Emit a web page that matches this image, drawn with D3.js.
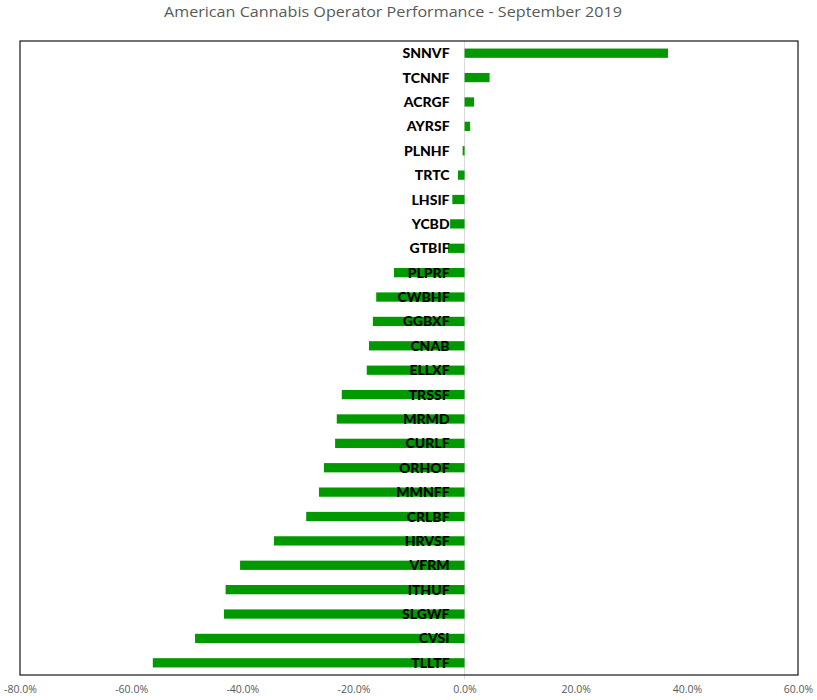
<!DOCTYPE html>
<html>
<head>
<meta charset="utf-8">
<script src="https://cdn.jsdelivr.net/npm/d3@7"></script>
<style>
  html, body { margin: 0; padding: 0; background: #fff; }
  svg { display: block; }
</style>
</head>
<body>
<svg id="chart" width="817" height="700"></svg>
<script>
const categories = ["SNNVF","TCNNF","ACRGF","AYRSF","PLNHF","TRTC","LHSIF","YCBD","GTBIF","PLPRF","CWBHF","GGBXF","CNAB","ELLXF","TRSSF","MRMD","CURLF","ORHOF","MMNFF","CRLBF","HRVSF","VFRM","ITHUF","SLGWF","CVSI","TLLTF"];
const values = [36.6, 4.5, 1.7, 1.0, -0.35, -1.2, -2.2, -2.6, -3.0, -12.7, -15.9, -16.5, -17.2, -17.6, -22.1, -23.0, -23.3, -25.3, -26.2, -28.5, -34.3, -40.4, -43.0, -43.3, -48.5, -56.1];
const tickValues = [-80, -60, -40, -20, 0, 20, 40, 60];
const title = "American Cannabis Operator Performance - September 2019";

const svg = d3.select("#chart");
const L = 20, R = 798, T = 41, B = 675;

const x = d3.scaleLinear().domain([-80, 60]).range([L, R]);
const y = d3.scaleBand().domain(categories).range([T, B]).paddingInner(0.62).paddingOuter(0.31);

// title
svg.append("text")
  .attr("x", 393).attr("y", 17)
  .attr("text-anchor", "middle")
  .attr("font-family", "Open Sans, sans-serif")
  .attr("font-size", 15)
  .attr("fill", "#595959")
  .attr("textLength", 458).attr("lengthAdjust", "spacingAndGlyphs")
  .text(title);

// zero line
svg.append("line")
  .attr("x1", x(0)).attr("x2", x(0))
  .attr("y1", T).attr("y2", B + 4)
  .attr("stroke", "#d9d9d9").attr("stroke-width", 1);

// bars
svg.append("g").selectAll("rect")
  .data(values)
  .join("rect")
  .attr("x", d => x(Math.min(0, d)))
  .attr("width", d => Math.abs(x(d) - x(0)))
  .attr("y", (d, i) => y(categories[i]))
  .attr("height", y.bandwidth())
  .attr("fill", "#009900");

// category labels
svg.append("g").selectAll("text")
  .data(categories)
  .join("text")
  .attr("x", x(0) - 15)
  .attr("y", d => y(d) + y.bandwidth() / 2)
  .attr("dy", "0.36em")
  .attr("text-anchor", "end")
  .attr("font-family", "Lato, sans-serif")
  .attr("font-weight", "900")
  .attr("font-size", 14)
  .attr("fill", "#000")
  .text(d => d);

// plot border
svg.append("rect")
  .attr("x", L).attr("y", T)
  .attr("width", R - L).attr("height", B - T)
  .attr("fill", "none").attr("stroke", "#000").attr("stroke-width", 1.1);

// x axis tick labels
const axis = d3.axisBottom(x).tickValues(tickValues).tickSize(0).tickFormat(d => d.toFixed(1) + "%");
const ag = svg.append("g").attr("transform", `translate(0,${B + 8})`).call(axis);
ag.select(".domain").remove();
ag.selectAll("text")
  .attr("font-family", "Open Sans, sans-serif")
  .attr("font-size", 10.5)
  .attr("fill", "#595959");
</script>
</body>
</html>
